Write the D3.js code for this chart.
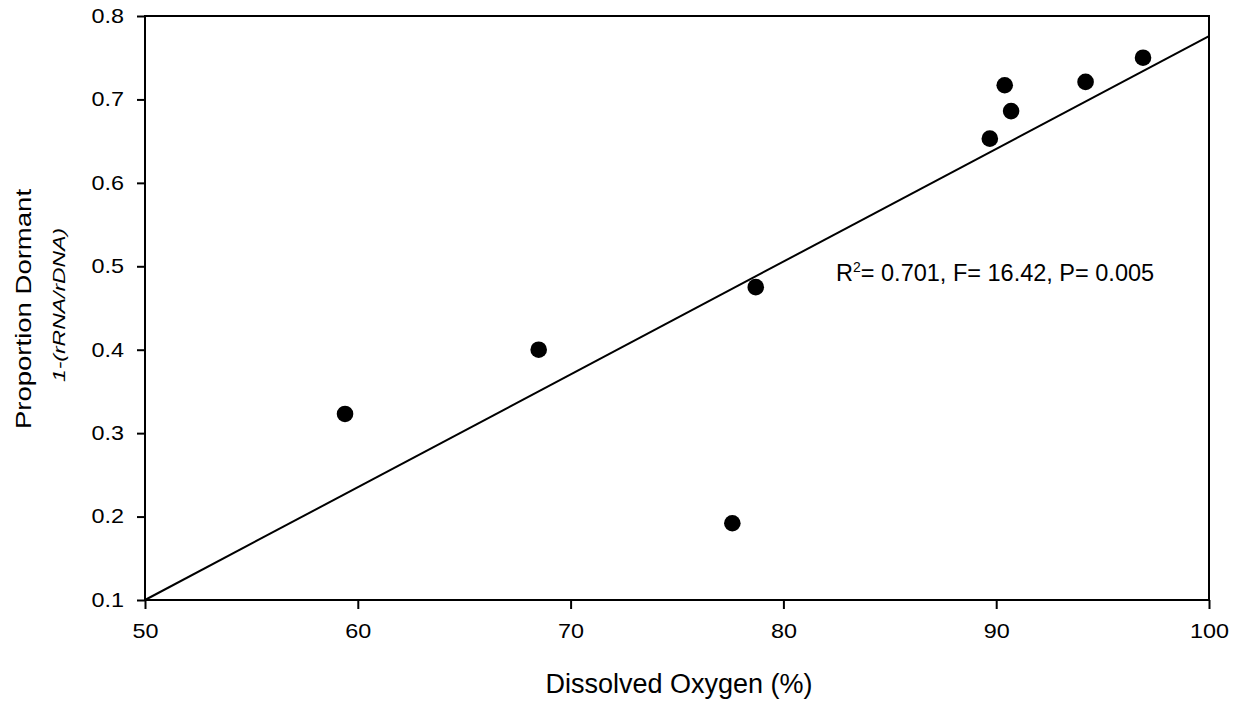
<!DOCTYPE html>
<html lang="en">
<head>
    <meta charset="UTF-8">
    <title>Proportion Dormant vs Dissolved Oxygen</title>
    <script src="https://d3js.org/d3.v7.min.js"></script>
    <style>
        body { margin: 0; background: #fff; }
        svg text { font-family: Arial, "Liberation Sans", sans-serif; fill: #000; }
    </style>
</head>
<body>
    <svg id="chart" width="1243" height="702"></svg>
    <script>
        // Data
        const oxygen  = [59.4, 68.5, 77.6, 78.7, 89.7, 90.4, 90.7, 94.2, 96.9];
        const dormant = [0.323, 0.400, 0.192, 0.475, 0.653, 0.717, 0.686, 0.721, 0.750];
        const xTicks = [50, 60, 70, 80, 90, 100];
        const yTicks = [0.1, 0.2, 0.3, 0.4, 0.5, 0.6, 0.7, 0.8];
        // fitted regression line, endpoints at the x range
        const fitX = [50, 100];
        const fitY = [0.100, 0.776];
        const statsText = ['R', '2', '= 0.701, F= 16.42, P= 0.005'];

        const svg = d3.select('#chart');
        const margin = { left: 145, top: 16, right: 1243 - 1209, bottom: 702 - 600 };
        const width = 1243 - margin.left - margin.right;
        const height = 702 - margin.top - margin.bottom;

        const x = d3.scaleLinear().domain([50, 100]).range([0, width]);
        const y = d3.scaleLinear().domain([0.1, 0.8]).range([height, 0]);

        const g = svg.append('g').attr('transform', `translate(${margin.left},${margin.top})`);

        // frame
        g.append('rect')
            .attr('width', width)
            .attr('height', height)
            .attr('fill', 'none')
            .attr('stroke', '#000')
            .attr('stroke-width', 2);

        const xAxis = g.append('g')
            .attr('transform', `translate(0,${height})`)
            .call(d3.axisBottom(x).tickValues(xTicks).tickSize(9).tickPadding(15).tickFormat(d3.format('d')));
        const yAxis = g.append('g')
            .call(d3.axisLeft(y).tickValues(yTicks).tickSize(8).tickPadding(12).tickFormat(d3.format('.1f')));

        // tick labels in the original are a little wider than plain Arial
        const tickStretch = 1.17;
        [xAxis, yAxis].forEach(ax => {
            ax.select('.domain').remove();
            ax.attr('font-size', 20);
            ax.selectAll('.tick line').attr('stroke', '#000').attr('stroke-width', 2);
        });
        xAxis.selectAll('.tick text').attr('transform', `scale(${tickStretch},1)`);
        yAxis.selectAll('.tick text')
            .attr('x', 0)
            .attr('transform', `translate(-21,0) scale(${tickStretch},1)`);

        // regression line
        g.append('line')
            .attr('x1', x(fitX[0])).attr('y1', y(fitY[0]))
            .attr('x2', x(fitX[1])).attr('y2', y(fitY[1]))
            .attr('stroke', '#000')
            .attr('stroke-width', 2);

        // points
        g.selectAll('circle')
            .data(oxygen.map((d, i) => ({ x: d, y: dormant[i] })))
            .enter()
            .append('circle')
            .attr('cx', d => x(d.x))
            .attr('cy', d => y(d.y))
            .attr('r', 8.3)
            .attr('fill', '#000');

        // stats annotation
        const st = svg.append('text')
            .attr('x', 836)
            .attr('y', 281)
            .attr('font-size', 23.5);
        st.append('tspan').text(statsText[0]);
        st.append('tspan').attr('font-size', 14).attr('dy', -9).text(statsText[1]);
        st.append('tspan').attr('dy', 9).text(statsText[2]);

        // axis titles
        svg.append('text')
            .attr('x', 679)
            .attr('y', 693)
            .attr('text-anchor', 'middle')
            .attr('font-size', 27)
            .text('Dissolved Oxygen (%)');

        // rotated titles look stretched along their length in the original
        svg.append('text')
            .attr('transform', 'translate(31,309) rotate(-90) scale(1.28,1)')
            .attr('text-anchor', 'middle')
            .attr('font-size', 21.5)
            .text('Proportion Dormant');

        svg.append('text')
            .attr('transform', 'translate(65,305) rotate(-90) scale(1.35,1)')
            .attr('text-anchor', 'middle')
            .attr('font-size', 17)
            .attr('font-style', 'italic')
            .text('1-(rRNA/rDNA)');
    </script>
</body>
</html>
